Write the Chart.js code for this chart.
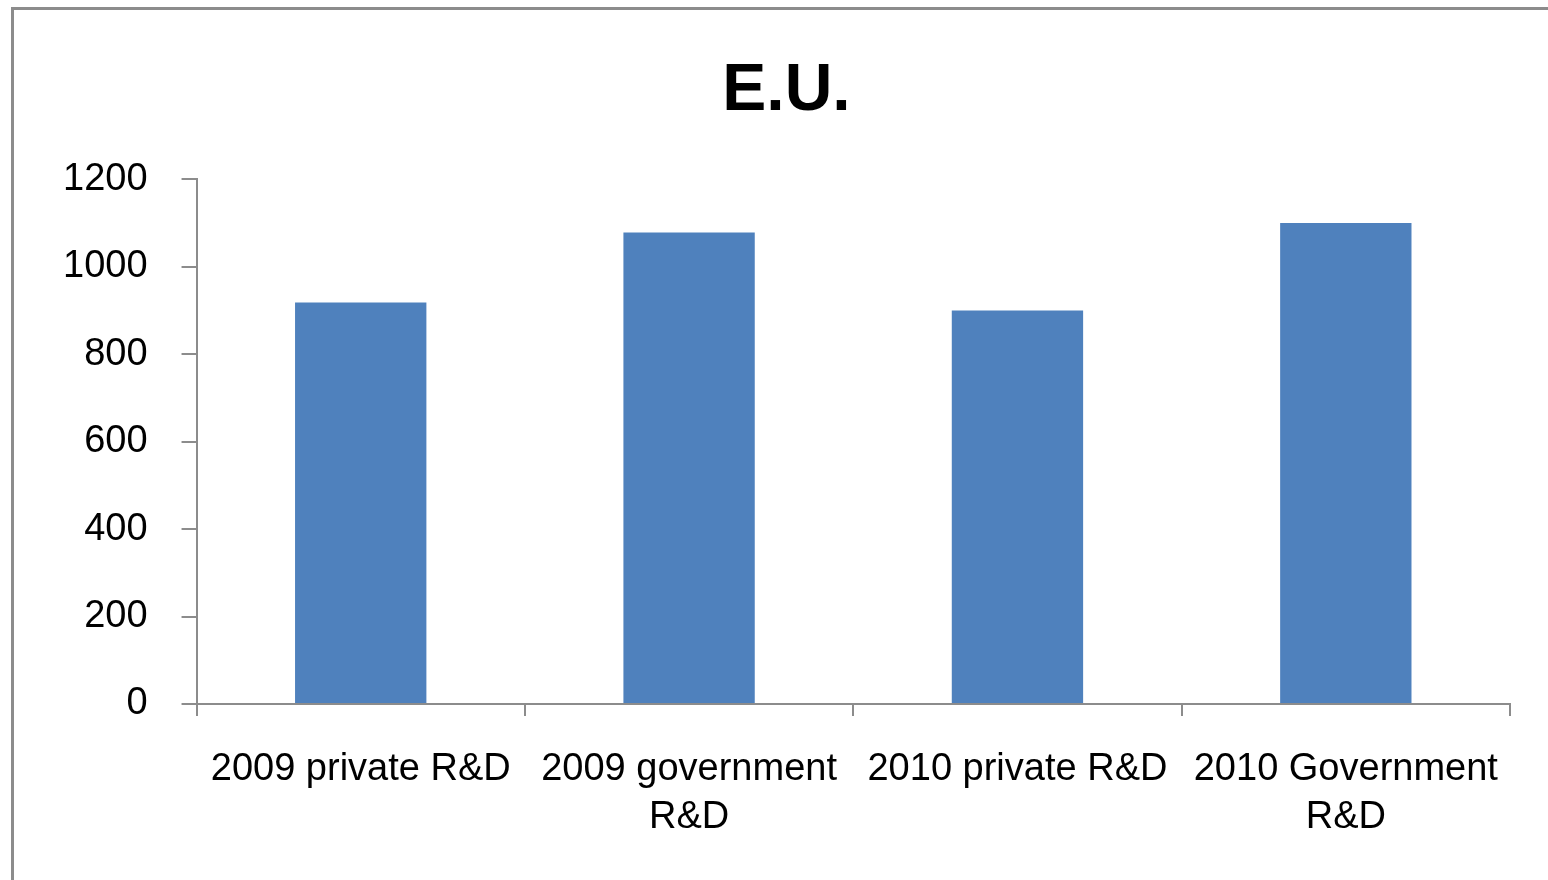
<!DOCTYPE html>
<html>
<head>
<meta charset="utf-8">
<script src="https://cdn.jsdelivr.net/npm/chart.js@4/dist/chart.umd.min.js"></script>
<style>
  html, body { margin: 0; padding: 0; background: #fff; overflow: hidden; }
  #frame { position: absolute; left: 11px; top: 7px; width: 1700px; height: 1000px; border: 3px solid #8c8c8c; }
  #wrap { position: absolute; left: 0; top: 0; width: 1600px; height: 880px; }
</style>
</head>
<body>
<div id="frame"></div>
<div id="wrap"><canvas id="chart"></canvas></div>
<script>
const categories = [
    '2009 private R&D',
    ['2009 government', 'R&D'],
    '2010 private R&D',
    ['2010 Government', 'R&D']
];
const values = [918, 1078, 900, 1100];
const yTicks = [0, 200, 400, 600, 800, 1000, 1200];

const axisGray = '#8c8c8c';
const ctx = document.getElementById('chart').getContext('2d');

new Chart(ctx, {
    type: 'bar',
    data: {
        labels: categories,
        datasets: [{
            label: 'E.U.',
            data: values,
            backgroundColor: '#4f81bd',
            borderWidth: 0,
            categoryPercentage: 1,
            barPercentage: 0.4
        }]
    },
    options: {
        responsive: true,
        maintainAspectRatio: false,
        animation: false,
        layout: { padding: { left: 63, right: 90, top: 52, bottom: 9 } },
        plugins: {
            legend: { display: false },
            tooltip: { enabled: false },
            title: {
                display: true,
                text: 'E.U.',
                color: '#000',
                font: { family: 'Liberation Sans', size: 66, weight: 'bold' },
                padding: { top: 0, bottom: 48 }
            }
        },
        scales: {
            x: {
                // labels fit inside the frame, so no extra room is needed on the left
                afterFit: axis => { axis.paddingLeft = 0; },
                grid: {
                    display: true,
                    drawOnChartArea: false,
                    drawTicks: true,
                    tickLength: 12,
                    color: axisGray,
                    lineWidth: 2
                },
                border: { display: true, color: axisGray, width: 2 },
                ticks: {
                    color: '#000',
                    font: { family: 'Liberation Sans', size: 38, lineHeight: 1.25 },
                    padding: 30,
                    maxRotation: 0,
                    autoSkip: false
                }
            },
            y: {
                min: 0,
                max: 1200,
                afterBuildTicks: axis => { axis.ticks = yTicks.map(v => ({ value: v })); },
                // tick padding is counted twice when fitting; take one back
                afterFit: axis => { axis.width -= axis.options.ticks.padding; },
                grid: {
                    display: true,
                    drawOnChartArea: false,
                    drawTicks: true,
                    tickLength: 15,
                    color: axisGray,
                    lineWidth: 2
                },
                border: { display: true, color: axisGray, width: 2 },
                ticks: {
                    color: '#000',
                    font: { family: 'Liberation Sans', size: 38 },
                    padding: 34,
                    callback: v => String(v)
                }
            }
        }
    }
});
</script>
</body>
</html>
